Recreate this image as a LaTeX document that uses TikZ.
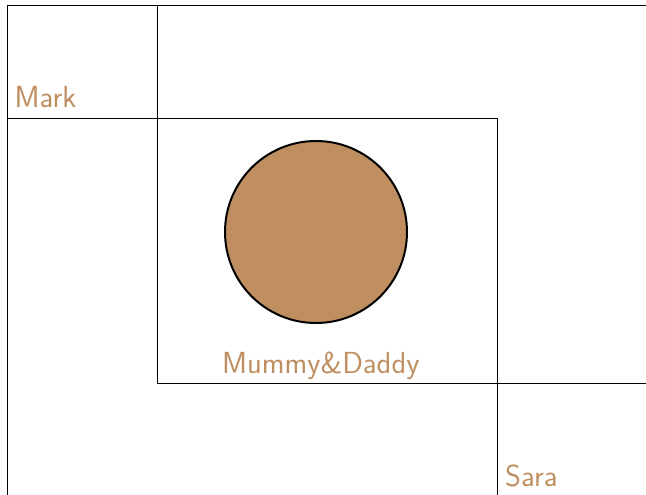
\documentclass[tikz,border=0pt]{standalone}
\usepackage{tikz}
\definecolor{tan}{RGB}{191,143,97}
\begin{document}
\begin{tikzpicture}[x=1pt,y=-1pt,
  frame/.style={draw=black,line width=1pt},
  lab/.style={text=tan,font=\sffamily\fontsize{30.5}{36}\selectfont,inner sep=0pt,anchor=base west},
  dot/.style={circle,draw=black,line width=2pt,fill=tan,minimum size=182pt,inner sep=0pt}]
\useasboundingbox (0,0) rectangle (646,495);
% frames
\draw[frame] (7,495) -- (7,5.5) -- (646,5.5);
\draw[frame] (157,5) -- (157,383) -- (646,383);
\draw[frame] (7,118.5) -- (497,118.5) -- (497,495);
% circle
\node[dot] (md) at (316,232) {};
% labels
\node[lab] (mark) at (14.5,108) {Mark};
\node[lab] (mummy) at (222,373) {Mummy\&Daddy};
\node[lab] (sara) at (505,486) {Sara};
\end{tikzpicture}
\end{document}
